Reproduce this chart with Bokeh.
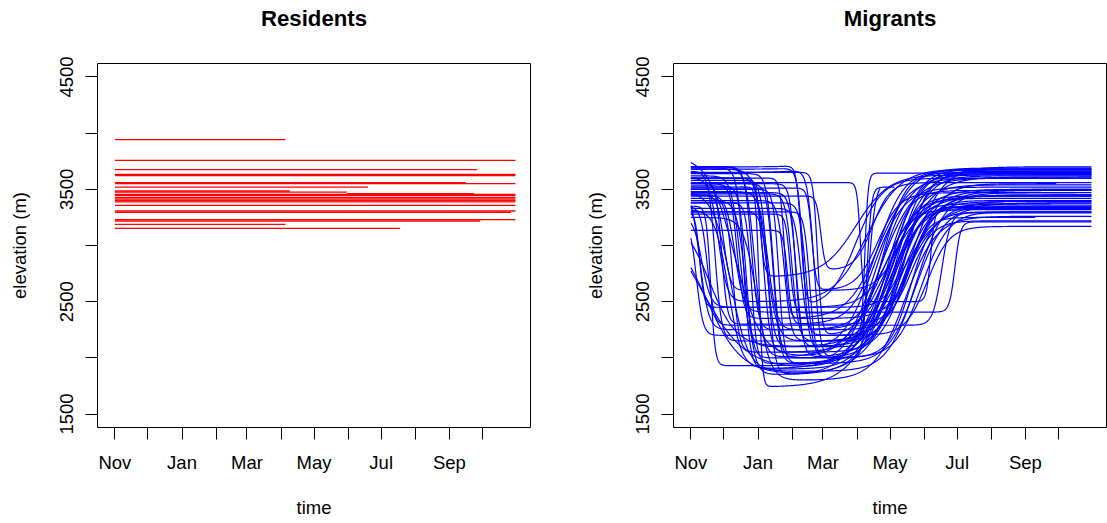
import numpy as np
from bokeh.plotting import figure
from bokeh.layouts import row
from bokeh.models import Range1d, FixedTicker, ColumnDataSource, LinearAxis
from bokeh.embed import file_html
from bokeh.resources import INLINE

# ---- time axis: days since 1 November ----
month_days = [0, 30, 61, 92, 120, 151, 181, 212, 242, 273, 304, 334]
month_labels = ["Nov", "", "Jan", "", "Mar", "", "May", "", "Jul", "", "Sep", ""]
elev_ticks = [1500, 2000, 2500, 3000, 3500, 4000, 4500]
elev_labels = ["1500", "", "2500", "", "3500", "", "4500"]

# ---- residents: constant elevation (m) between first and last day ----
res_elev = [3943, 3758, 3675, 3632, 3622, 3560, 3550, 3520, 3485, 3475, 3462, 3455,
            3445, 3425, 3412, 3400, 3388, 3357, 3307, 3295, 3230, 3218, 3188, 3153]
res_start = [0, 0, 0, 0, 0, 0, 0, 0, 0, 0, 211, 0,
             0, 0, 0, 0, 0, 0, 0, 0, 0, 0, 0, 0]
res_end = [155, 364, 329, 364, 364, 319, 364, 230, 159, 211, 326, 364,
           364, 364, 364, 364, 364, 364, 364, 360, 364, 332, 155, 259]

# ---- migrants: fitted two-step range-shift tracks ----
# summer elevation, descent day, descent width, winter elevation,
# ascent day, ascent width, summer elevation after return, last day
mig_e1 = [3800, 3700, 3700, 3690, 3680, 3660, 3650, 3640, 3620, 3600, 3600, 3580,
          3560, 3560, 3550, 3530, 3520, 3510, 3500, 3480, 3460, 3450, 3440, 3420,
          3400, 3380, 3350, 3350, 3330, 3300, 3300, 3280, 3260, 3250, 3230, 3135,
          3250, 3300, 3200, 3700, 3650, 3600, 3550, 3500, 3470, 3450, 3400, 3380,
          3320, 3600, 3550, 3300, 3680, 3480]
mig_t1 = [40, 55, 100, 48, 102, 22, 115, 75, 45, 63, 85, 70,
          154, 28, 95, 50, 62, 110, 80, 70, 92, 40, 118, 38,
          85, 55, 18, 15, 100, 70, 108, 90, 10, 60, 5, 88,
          17, 10, 14, 58, 112, 66, 75, 8, 96, 30, 50, 105,
          34, 25, 42, 8, 68, 36]
mig_w1 = [12, 3, 2, 3, 2.5, 3, 2, 3, 4, 2, 2, 3,
          1.5, 2.5, 2.5, 3, 1.5, 2, 2.5, 4, 3, 4, 2, 3,
          3, 2.5, 2, 3, 3, 3, 2.5, 2, 4, 6, 3, 2,
          12, 20, 16, 4, 3, 3, 3, 4, 3, 3, 4, 3,
          6, 4, 3, 2, 5, 8]
mig_e2 = [2000, 2250, 2450, 1900, 2050, 2150, 2200, 2000, 2100, 2720, 2350, 1850,
          2500, 2300, 2100, 2000, 1740, 2600, 1950, 2250, 2150, 2407, 2780, 2050,
          2150, 1950, 1930, 2290, 2200, 2100, 2000, 2400, 2450, 1800, 2200, 2300,
          2100, 1900, 1850, 2000, 1900, 2050, 1950, 2250, 2000, 2600, 1850, 2000,
          1900, 2500, 2350, 2450, 2150, 1880]
mig_t2 = [170, 185, 150, 180, 165, 195, 175, 190, 200, 150, 205, 185,
          218, 170, 178, 160, 180, 170, 190, 200, 158, 240, 165, 195,
          185, 205, 175, 228, 190, 162, 210, 200, 182, 195, 215, 200,
          185, 178, 190, 175, 170, 185, 180, 175, 195, 190, 170, 200,
          185, 160, 170, 195, 188, 205]
mig_w2 = [14, 12, 12, 13, 14, 10, 10, 12, 14, 15, 12, 16,
          2, 12, 10, 2, 18, 10, 15, 10, 1.5, 2.5, 8, 12,
          10, 13, 15, 4, 9, 3, 12, 8, 12, 14, 10, 10,
          15, 16, 18, 18, 16, 15, 14, 12, 16, 10, 14, 10,
          20, 15, 14, 9, 11, 13]
mig_e3 = [3690, 3680, 3600, 3660, 3520, 3640, 3650, 3620, 3700, 3630, 3550, 3610,
          3340, 3670, 3490, 3520, 3500, 3470, 3450, 3400, 3645, 3210, 3560, 3390,
          3370, 3350, 3440, 3290, 3320, 3560, 3300, 3250, 3420, 3260, 3170, 3220,
          3500, 3370, 3400, 3450, 3600, 3680, 3540, 3330, 3490, 3440, 3630, 3300,
          3380, 3680, 3600, 3350, 3660, 3470]
mig_end = [364, 364, 364, 364, 364, 364, 364, 364, 364, 364, 332, 364,
           364, 364, 364, 185, 364, 364, 364, 364, 364, 364, 364, 364,
           327, 364, 364, 364, 364, 172, 364, 313, 364, 364, 364, 364,
           364, 364, 364, 364, 364, 364, 364, 364, 364, 364, 364, 364,
           364, 364, 345, 364, 364, 350]

FONT = "Liberation Sans"


def logistic(z):
    return 1.0 / (1.0 + np.exp(-z))


def track(e1, t1, w1, e2, t2, w2, e3, last):
    d = np.arange(0, last + 0.25, 0.5)
    elev = e1 + (e2 - e1) * logistic((d - t1) / w1) + (e3 - e2) * logistic((d - t2) / w2)
    return d.tolist(), elev.tolist()


def make_panel(title, right_border):
    p = figure(frame_width=433, frame_height=364,
               min_border_left=97, min_border_right=right_border,
               min_border_top=63, min_border_bottom=96,
               x_range=Range1d(-15.8, 377.7), y_range=Range1d(1380, 4620),
               output_backend="svg", toolbar_location=None)
    p.outline_line_color = "black"
    p.outline_line_width = 1
    p.background_fill_color = "white"
    p.border_fill_color = "white"
    p.xgrid.visible = False
    p.ygrid.visible = False

    xa, ya = p.below[0], p.left[0]
    xa.ticker = FixedTicker(ticks=month_days)
    xa.major_label_overrides = {d: l for d, l in zip(month_days, month_labels)}
    ya.ticker = FixedTicker(ticks=elev_ticks)
    ya.major_label_overrides = {v: l for v, l in zip(elev_ticks, elev_labels)}
    ya.major_label_orientation = "vertical"
    xa.axis_label = "time"
    ya.axis_label = "elevation (m)"
    for ax in (xa, ya):
        ax.axis_line_color = None
        ax.major_tick_in = 0
        ax.major_tick_out = 12
        ax.major_tick_line_color = "black"
        ax.major_tick_line_width = 1
        ax.minor_tick_line_color = None
        ax.major_label_text_font = FONT
        ax.major_label_text_font_size = "18.5px"
        ax.major_label_text_color = "black"
        ax.major_label_standoff = 12
        ax.axis_label_text_font = FONT
        ax.axis_label_text_font_size = "18.5px"
        ax.axis_label_text_font_style = "normal"
        ax.axis_label_text_color = "black"
    xa.axis_label_standoff = 21
    ya.axis_label_standoff = 28

    # bold panel heading carried by a tick-less axis along the top edge
    head = LinearAxis(ticker=FixedTicker(ticks=[]), axis_label=title)
    head.axis_line_color = None
    head.major_tick_line_color = None
    head.minor_tick_line_color = None
    head.major_tick_out = 0
    head.major_tick_in = 0
    head.major_label_standoff = 0
    head.axis_label_standoff = 33
    head.axis_label_text_font = FONT
    head.axis_label_text_font_size = "22.2px"
    head.axis_label_text_font_style = "bold"
    head.axis_label_text_color = "black"
    p.add_layout(head, "above")
    return p


# residents panel
p1 = make_panel("Residents", 46)
res_src = ColumnDataSource(dict(x0=res_start, x1=res_end, y=res_elev))
p1.segment(x0="x0", y0="y", x1="x1", y1="y", source=res_src,
           line_color="red", line_width=1.3)

# migrants panel
p2 = make_panel("Migrants", 1)
xs, ys = [], []
for params in zip(mig_e1, mig_t1, mig_w1, mig_e2, mig_t2, mig_w2, mig_e3, mig_end):
    dx, ey = track(*params)
    xs.append(dx)
    ys.append(ey)
p2.multi_line(xs=xs, ys=ys, line_color="blue", line_width=1.2)

layout = row(p1, p2)
open("out.html", "w").write(file_html(layout, INLINE))
